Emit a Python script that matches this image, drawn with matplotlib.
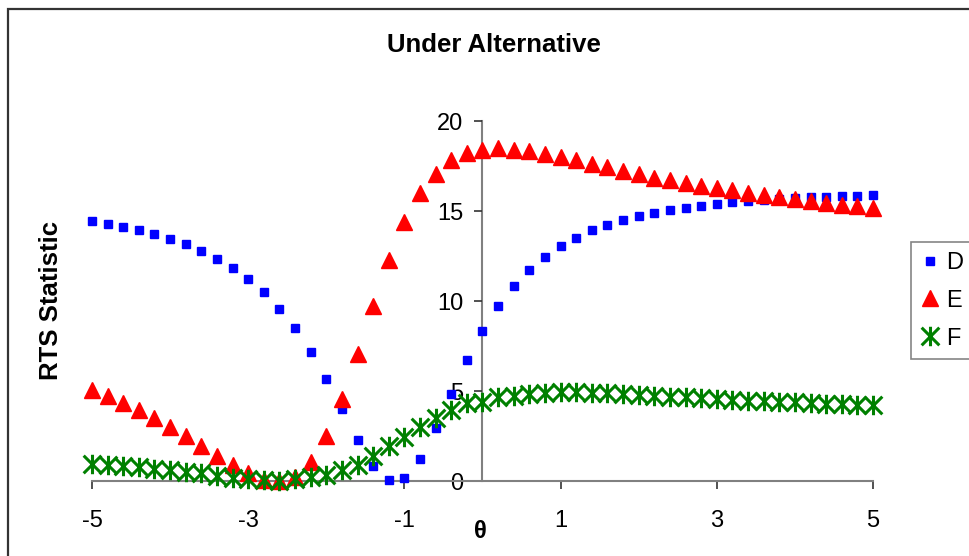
import matplotlib
matplotlib.use("Agg")
import matplotlib.pyplot as plt
import numpy as np
from matplotlib.path import Path
from matplotlib.patches import Rectangle

plt.rcParams['font.family'] = ['Liberation Sans', 'DejaVu Sans']
plt.rcParams['axes.unicode_minus'] = False

# theta grid, step 0.2 from -5 to 5
theta = np.linspace(-5, 5, 51)

D = [14.44, 14.28, 14.09, 13.93, 13.70, 13.44, 13.15, 12.76, 12.35, 11.85,
     11.20, 10.48, 9.57, 8.48, 7.15, 5.65, 3.98, 2.28, 0.81, 0.06,
     0.19, 1.22, 2.92, 4.83, 6.72, 8.33, 9.70, 10.83, 11.74, 12.46,
     13.06, 13.52, 13.93, 14.22, 14.50, 14.70, 14.87, 15.04, 15.15, 15.26,
     15.37, 15.48, 15.57, 15.63, 15.68, 15.72, 15.76, 15.78, 15.81, 15.83,
     15.87]

E = [5.06, 4.72, 4.35, 3.94, 3.50, 3.02, 2.50, 1.94, 1.39, 0.89,
     0.43, 0.06, 0.00, 0.24, 1.04, 2.50, 4.54, 7.07, 9.74, 12.28,
     14.39, 15.98, 17.07, 17.82, 18.22, 18.41, 18.48, 18.41, 18.31, 18.19,
     18.00, 17.82, 17.63, 17.44, 17.24, 17.06, 16.85, 16.70, 16.56, 16.39,
     16.28, 16.15, 16.02, 15.89, 15.78, 15.65, 15.54, 15.44, 15.33, 15.26,
     15.15]

F = [0.94, 0.89, 0.83, 0.76, 0.67, 0.61, 0.52, 0.43, 0.30, 0.19,
     0.11, 0.06, 0.02, 0.09, 0.24, 0.33, 0.61, 0.89, 1.41, 1.94,
     2.46, 3.02, 3.48, 3.94, 4.31, 4.41, 4.65, 4.74, 4.83, 4.91,
     4.93, 4.93, 4.91, 4.87, 4.83, 4.80, 4.74, 4.69, 4.65, 4.59,
     4.56, 4.50, 4.46, 4.43, 4.39, 4.37, 4.33, 4.30, 4.28, 4.24,
     4.22]

series_names = ['D', 'E', 'F']
x_ticks = [-5, -3, -1, 1, 3, 5]
y_ticks = [0, 5, 10, 15, 20]

# asterisk marker: an x with a vertical bar through it
star = Path([(-1, -1), (1, 1), (-1, 1), (1, -1), (0, -1.1), (0, 1.1)],
            [Path.MOVETO, Path.LINETO, Path.MOVETO, Path.LINETO,
             Path.MOVETO, Path.LINETO])

W, H = 970, 556
fig = plt.figure(figsize=(W / 100, H / 100), dpi=100)
ax = fig.add_axes([92 / W, 1 - 481 / H, 781 / W, 360 / H])

ax.plot(theta, D, 's', color='#0000FF', markersize=5.5, label=series_names[0],
        clip_on=False, zorder=3)
ax.plot(theta, E, '^', color='#FF0000', markersize=11, label=series_names[1],
        clip_on=False, zorder=4)
ax.plot(theta, F, linestyle='none', marker=star, markersize=14,
        markerfacecolor='none', markeredgecolor='#008000', markeredgewidth=2.2,
        label=series_names[2], clip_on=False, zorder=5)

ax.set_xlim(-5, 5)
ax.set_ylim(0, 20)
ax.set_xticks(x_ticks)
ax.set_yticks(y_ticks)

for s in ['top', 'right']:
    ax.spines[s].set_visible(False)
ax.spines['left'].set_position(('data', 0))
ax.spines['left'].set_color('#808080')
ax.spines['bottom'].set_color('#808080')
ax.spines['left'].set_linewidth(1.5)
ax.spines['bottom'].set_linewidth(1.5)
ax.spines['left'].set_zorder(1)
ax.tick_params(axis='both', direction='out', length=6, width=1.2,
               color='#333333', labelsize=17)
ax.tick_params(axis='y', pad=8)
ax.tick_params(axis='x', pad=15)

fig.text(494 / W, 1 - 45 / H, 'Under Alternative', ha='center', va='center',
         fontsize=18.5, fontweight='bold')
fig.text(51 / W, 1 - 301 / H, 'RTS Statistic', ha='center', va='center',
         rotation=90, fontsize=18.5, fontweight='bold')
fig.text(480 / W, 1 - 532 / H, 'θ', ha='center', va='center',
         fontsize=17, fontweight='bold')

leg = fig.legend(loc='upper left', bbox_to_anchor=(911 / W, 1 - 242 / H),
                 fontsize=17, frameon=True, fancybox=False, handlelength=0.8,
                 handletextpad=0.25, labelspacing=0.67, borderpad=0.42,
                 borderaxespad=0)
leg.get_frame().set_edgecolor('#666666')
leg.get_frame().set_linewidth(1.2)

# outer chart border (runs off the right and bottom edges)
fig.patches.append(Rectangle((8 / W, -0.2), 1.2, 1 - 9 / H + 0.2,
                             transform=fig.transFigure, fill=False,
                             edgecolor='#333333', linewidth=1.6))

fig.savefig('out.png', dpi=100)
